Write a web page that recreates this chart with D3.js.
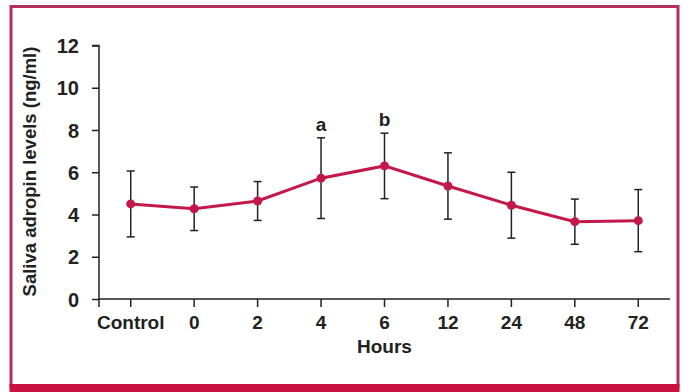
<!DOCTYPE html>
<html>
<head>
<meta charset="utf-8">
<script src="https://cdn.jsdelivr.net/npm/d3@7"></script>
<style>
  body { margin: 0; background: #fff; }
  svg { display: block; font-family: "Liberation Sans", Arial, sans-serif; }
</style>
</head>
<body>
<div id="chart"></div>
<script>
// data
const categories = ["Control", "0", "2", "4", "6", "12", "24", "48", "72"];
const means = [4.50, 4.27, 4.64, 5.72, 6.30, 5.35, 4.44, 3.66, 3.71];
const sds = [1.56, 1.03, 0.92, 1.91, 1.55, 1.57, 1.56, 1.07, 1.47];
const yTicks = [0, 2, 4, 6, 8, 10, 12];
const annotations = [{ cat: "4", label: "a" }, { cat: "6", label: "b" }];

const W = 693, H = 392;
const margin = { top: 45.5, right: 23, bottom: 93, left: 99 };
const width = W - margin.left - margin.right;
const height = H - margin.top - margin.bottom;

const accent = "#c4174a";
const frame = "#b3305c";

const svg = d3.select("#chart").append("svg")
    .attr("width", W)
    .attr("height", H);

// frame
svg.append("rect")
    .attr("x", 11).attr("y", 6.5)
    .attr("width", 667).attr("height", 380)
    .attr("fill", "none")
    .attr("stroke", frame)
    .attr("stroke-width", 3);
svg.append("rect")
    .attr("x", 9.5).attr("y", 384)
    .attr("width", 670).attr("height", 8)
    .attr("fill", "#c8113f");

const g = svg.append("g")
    .attr("transform", `translate(${margin.left},${margin.top})`);

const x = d3.scaleBand()
    .domain(categories)
    .range([0, width]);

const y = d3.scaleLinear()
    .domain([0, 12])
    .range([height, 0]);

// y axis
const yAxis = g.append("g")
    .call(d3.axisLeft(y).tickValues(yTicks).tickSize(7).tickPadding(13));
yAxis.select(".domain").attr("d", `M-7,0H0V${height}`).attr("stroke", "#222").attr("stroke-width", 1.5);
yAxis.selectAll(".tick line").attr("stroke", "#222").attr("stroke-width", 1.5);
yAxis.selectAll("text")
    .attr("fill", "#222")
    .style("font-size", "20px")
    .style("font-weight", "bold")
    .attr("dy", "0.36em");

// x axis
const xAxis = g.append("g")
    .attr("transform", `translate(0,${height})`)
    .call(d3.axisBottom(x).tickSize(8).tickPadding(9));
xAxis.select(".domain").attr("d", `M0,8V0H${width}`).attr("stroke", "#222").attr("stroke-width", 1.5);
xAxis.selectAll(".tick line").attr("stroke", "#222").attr("stroke-width", 1.5);
xAxis.selectAll("text")
    .attr("fill", "#222")
    .style("font-size", "19px")
    .style("font-weight", "bold");

// axis titles
g.append("text")
    .attr("x", width / 2)
    .attr("y", height + 54)
    .attr("text-anchor", "middle")
    .attr("fill", "#222")
    .style("font-size", "19px")
    .style("font-weight", "bold")
    .text("Hours");

svg.append("text")
    .attr("transform", `translate(36,171.5) rotate(-90)`)
    .attr("text-anchor", "middle")
    .attr("fill", "#222")
    .style("font-size", "18.5px")
    .style("font-weight", "bold")
    .text("Saliva adropin levels (ng/ml)");

const cx = c => x(c) + x.bandwidth() / 2;
const pts = categories.map((c, i) => ({ cat: c, mean: means[i], sd: sds[i] }));

// error bars
const eb = g.selectAll(".err").data(pts).enter().append("g").attr("class", "err")
    .attr("stroke", "#222").attr("stroke-width", 1.5);
eb.append("line")
    .attr("x1", d => cx(d.cat)).attr("x2", d => cx(d.cat))
    .attr("y1", d => y(d.mean + d.sd)).attr("y2", d => y(d.mean - d.sd));
eb.append("line")
    .attr("x1", d => cx(d.cat) - 4).attr("x2", d => cx(d.cat) + 4)
    .attr("y1", d => y(d.mean + d.sd)).attr("y2", d => y(d.mean + d.sd));
eb.append("line")
    .attr("x1", d => cx(d.cat) - 4).attr("x2", d => cx(d.cat) + 4)
    .attr("y1", d => y(d.mean - d.sd)).attr("y2", d => y(d.mean - d.sd));

// line + points
g.append("path")
    .datum(pts)
    .attr("fill", "none")
    .attr("stroke", accent)
    .attr("stroke-width", 3)
    .attr("d", d3.line().x(d => cx(d.cat)).y(d => y(d.mean)));

g.selectAll(".dot").data(pts).enter().append("circle")
    .attr("class", "dot")
    .attr("cx", d => cx(d.cat))
    .attr("cy", d => y(d.mean))
    .attr("r", 4.5)
    .attr("fill", accent);

// significance letters
g.selectAll(".sig").data(annotations).enter().append("text")
    .attr("class", "sig")
    .attr("x", d => cx(d.cat))
    .attr("y", d => {
        const i = categories.indexOf(d.cat);
        return y(means[i] + sds[i]) - 7;
    })
    .attr("text-anchor", "middle")
    .attr("fill", "#222")
    .style("font-size", "19px")
    .style("font-weight", "bold")
    .text(d => d.label);
</script>
</body>
</html>
